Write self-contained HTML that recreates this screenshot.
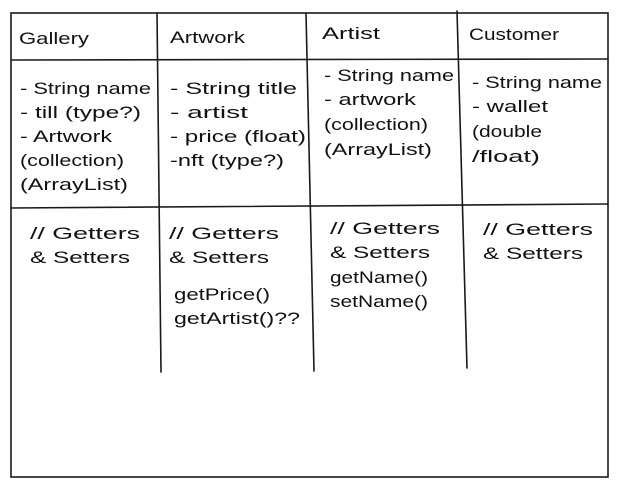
<!DOCTYPE html>
<html><head><meta charset="utf-8"><style>html,body{margin:0;padding:0;background:#fff}svg{display:block}text{font-family:"Liberation Sans",sans-serif;font-size:17px;fill:#111}</style></head>
<body>
<svg width="619" height="487" viewBox="0 0 619 487" xmlns="http://www.w3.org/2000/svg">
<g stroke="#1a1a1a" stroke-width="1.6" fill="none" stroke-linecap="round">
<rect x="11" y="13" width="597" height="464"/>
<line x1="11" y1="60" x2="608" y2="59"/>
<line x1="11" y1="208" x2="608" y2="204"/>
<line x1="157" y1="13" x2="161" y2="372"/>
<line x1="306" y1="13" x2="314" y2="371"/>
<line x1="457" y1="11" x2="467" y2="368"/>
</g>
<text x="19" y="44" textLength="70" lengthAdjust="spacingAndGlyphs">Gallery</text>
<text x="170" y="43" textLength="75" lengthAdjust="spacingAndGlyphs">Artwork</text>
<text x="322" y="39" textLength="58" lengthAdjust="spacingAndGlyphs">Artist</text>
<text x="469" y="40" textLength="90" lengthAdjust="spacingAndGlyphs">Customer</text>

<text x="20" y="94" textLength="131" lengthAdjust="spacingAndGlyphs">- String name</text>
<text x="20" y="118" textLength="121" lengthAdjust="spacingAndGlyphs">- till (type?)</text>
<text x="20" y="142" textLength="92" lengthAdjust="spacingAndGlyphs">- Artwork</text>
<text x="20" y="166" textLength="104" lengthAdjust="spacingAndGlyphs">(collection)</text>
<text x="20" y="190" textLength="108" lengthAdjust="spacingAndGlyphs">(ArrayList)</text>

<text x="170" y="94" textLength="127" lengthAdjust="spacingAndGlyphs">- String title</text>
<text x="170" y="118" textLength="78" lengthAdjust="spacingAndGlyphs">- artist</text>
<text x="170" y="142" textLength="136" lengthAdjust="spacingAndGlyphs">- price (float)</text>
<text x="170" y="166" textLength="114" lengthAdjust="spacingAndGlyphs">-nft (type?)</text>

<text x="324" y="81" textLength="130" lengthAdjust="spacingAndGlyphs">- String name</text>
<text x="324" y="105" textLength="92" lengthAdjust="spacingAndGlyphs">- artwork</text>
<text x="324" y="130" textLength="104" lengthAdjust="spacingAndGlyphs">(collection)</text>
<text x="324" y="155" textLength="108" lengthAdjust="spacingAndGlyphs">(ArrayList)</text>

<text x="472" y="88" textLength="130" lengthAdjust="spacingAndGlyphs">- String name</text>
<text x="472" y="112" textLength="76" lengthAdjust="spacingAndGlyphs">- wallet</text>
<text x="472" y="137" textLength="70" lengthAdjust="spacingAndGlyphs">(double</text>
<text x="472" y="162" textLength="68" lengthAdjust="spacingAndGlyphs">/float)</text>

<text x="30" y="239" textLength="110" lengthAdjust="spacingAndGlyphs">// Getters</text>
<text x="30" y="263" textLength="100" lengthAdjust="spacingAndGlyphs">&amp; Setters</text>

<text x="169" y="239" textLength="110" lengthAdjust="spacingAndGlyphs">// Getters</text>
<text x="169" y="263" textLength="100" lengthAdjust="spacingAndGlyphs">&amp; Setters</text>
<text x="174" y="300" textLength="96" lengthAdjust="spacingAndGlyphs">getPrice()</text>
<text x="174" y="324" textLength="126" lengthAdjust="spacingAndGlyphs">getArtist()??</text>

<text x="330" y="234" textLength="110" lengthAdjust="spacingAndGlyphs">// Getters</text>
<text x="330" y="258" textLength="100" lengthAdjust="spacingAndGlyphs">&amp; Setters</text>
<text x="330" y="283" textLength="98" lengthAdjust="spacingAndGlyphs">getName()</text>
<text x="330" y="307" textLength="98" lengthAdjust="spacingAndGlyphs">setName()</text>

<text x="483" y="235" textLength="110" lengthAdjust="spacingAndGlyphs">// Getters</text>
<text x="483" y="259" textLength="100" lengthAdjust="spacingAndGlyphs">&amp; Setters</text>
</svg>
</body></html>
